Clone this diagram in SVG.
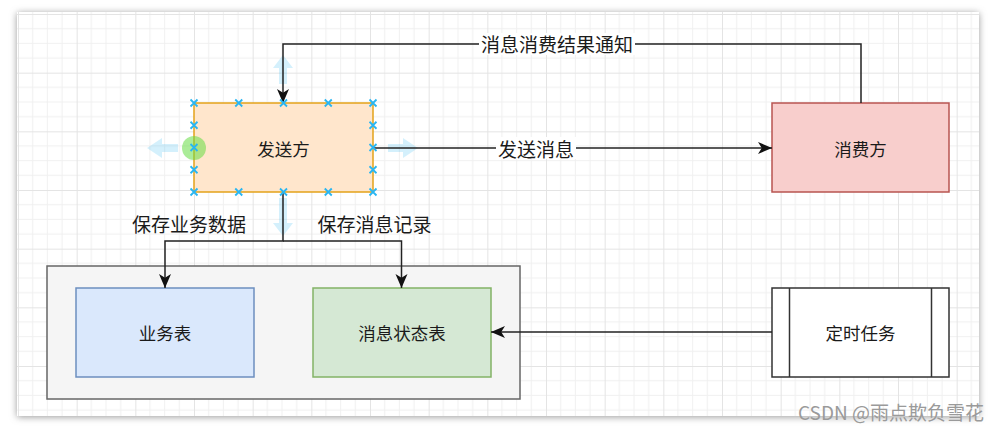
<svg xmlns="http://www.w3.org/2000/svg" width="1000" height="434" viewBox="0 0 1000 434">
<defs>
<style>
.lbl{font-family:"Noto Sans CJK SC","Noto Sans",sans-serif;font-size:17.5px;fill:#1a1a1a;text-anchor:middle;dominant-baseline:central}
.elbl{font-family:"Noto Sans CJK SC","Noto Sans",sans-serif;font-size:19px;fill:#1a1a1a;text-anchor:middle;dominant-baseline:central}
.conn{fill:none;stroke:#222;stroke-width:1.5}
.hnd{stroke:#29b6f2;stroke-width:1.8;fill:none}
.hover{fill:#29b6f2;fill-opacity:0.2}
</style>
<marker id="arr" markerUnits="userSpaceOnUse" markerWidth="15" markerHeight="13" refX="14" refY="6" orient="auto">
<path d="M0,0 L14,6 L0,12 L3.8,6 z" fill="#111"/>
</marker>
<pattern id="grid" patternUnits="userSpaceOnUse" x="18" y="14" width="58.667" height="58.667">
<path d="M14.667,0V58.667M29.333,0V58.667M44,0V58.667M0,14.667H58.667M0,29.333H58.667M0,44H58.667" stroke="#f0f0f0" stroke-width="1" fill="none"/>
<path d="M0.5,0V58.667M0,0.5H58.667" stroke="#e4e4e4" stroke-width="1" fill="none"/>
</pattern>
<filter id="sh" x="-5%" y="-5%" width="110%" height="115%">
<feGaussianBlur stdDeviation="3.5"/>
</filter>
</defs>
<rect width="1000" height="434" fill="#ffffff"/>
<rect x="17" y="13" width="962" height="404" fill="#9a9a9a" filter="url(#sh)"/>
<rect x="17" y="12" width="962" height="404" fill="#ffffff"/>
<rect x="17" y="12" width="962" height="404" fill="url(#grid)"/>

<g id="hover-arrows">
<polygon class="hover" points="283,55 293,68 287,68 287,84 279,84 279,68 273,68"/>
<polygon class="hover" points="283,236 293,223 287,223 287,198 279,198 279,223 273,223"/>
<polygon class="hover" points="147,148 162,138 162,144 178,144 178,152 162,152 162,158"/>
<polygon class="hover" points="418,148 403,138 403,144 388,144 388,152 403,152 403,158"/>
</g>

<g id="container">
<rect x="47" y="266" width="473" height="133" fill="#f5f5f5" stroke="#666666" stroke-width="1.5"/>
</g>
<g id="sender">
<rect x="194" y="103" width="179" height="89" fill="#ffe6cc" stroke="#e3a21a" stroke-width="1.5"/>
<text class="lbl" x="283.5" y="148">发送方</text>
</g>
<g id="consumer">
<rect x="772" y="103" width="177" height="89" fill="#f8cecc" stroke="#b85450" stroke-width="1.5"/>
<text class="lbl" x="860.5" y="148">消费方</text>
</g>
<g id="biz-table">
<rect x="76" y="288" width="178" height="89" fill="#dae8fc" stroke="#6c8ebf" stroke-width="1.5"/>
<text class="lbl" x="165" y="332">业务表</text>
</g>
<g id="msg-table">
<rect x="313" y="288" width="178" height="89" fill="#d5e8d4" stroke="#82b366" stroke-width="1.5"/>
<text class="lbl" x="402" y="332">消息状态表</text>
</g>
<g id="timer">
<rect x="772" y="288" width="177" height="89" fill="#ffffff" stroke="#333333" stroke-width="1.5"/>
<line x1="789.5" y1="288" x2="789.5" y2="377" stroke="#333333" stroke-width="1.5"/>
<line x1="931.5" y1="288" x2="931.5" y2="377" stroke="#333333" stroke-width="1.5"/>
<text class="lbl" x="860.5" y="332">定时任务</text>
</g>

<g id="connectors">
<path class="conn" d="M861,103 V44 H283 V103" marker-end="url(#arr)"/>
<path class="conn" d="M373,148 H772" marker-end="url(#arr)"/>
<path class="conn" d="M283,192 V241 H165 V288" marker-end="url(#arr)"/>
<path class="conn" d="M283,241 H401.5 V288" marker-end="url(#arr)"/>
<path class="conn" d="M772,332 H491" marker-end="url(#arr)"/>
<rect x="479" y="33" width="156" height="22" fill="#ffffff"/>
<text class="elbl" x="557" y="43">消息消费结果通知</text>
<rect x="496" y="137" width="80" height="22" fill="#ffffff"/>
<text class="elbl" x="536" y="148">发送消息</text>
<text class="elbl" x="189" y="223">保存业务数据</text>
<text class="elbl" x="374.5" y="223">保存消息记录</text>
</g>

<g id="selection">
<circle cx="194" cy="148" r="12" fill="#66dd44" fill-opacity="0.55"/>
<path class="hnd" d="M190.5,99.5l7,7m0,-7l-7,7 M235.25,99.5l7,7m0,-7l-7,7 M280,99.5l7,7m0,-7l-7,7 M324.75,99.5l7,7m0,-7l-7,7 M369.5,99.5l7,7m0,-7l-7,7 M190.5,188.5l7,7m0,-7l-7,7 M235.25,188.5l7,7m0,-7l-7,7 M280,188.5l7,7m0,-7l-7,7 M324.75,188.5l7,7m0,-7l-7,7 M369.5,188.5l7,7m0,-7l-7,7 M190.5,121.75l7,7m0,-7l-7,7 M190.5,144l7,7m0,-7l-7,7 M190.5,166.25l7,7m0,-7l-7,7 M369.5,121.75l7,7m0,-7l-7,7 M369.5,144l7,7m0,-7l-7,7 M369.5,166.25l7,7m0,-7l-7,7"/>
</g>

<text x="984" y="411" font-family="'Noto Sans CJK SC','Noto Sans',sans-serif" font-size="19px" fill="#9a9a9a" text-anchor="end" dominant-baseline="central">CSDN @雨点欺负雪花</text>
</svg>
